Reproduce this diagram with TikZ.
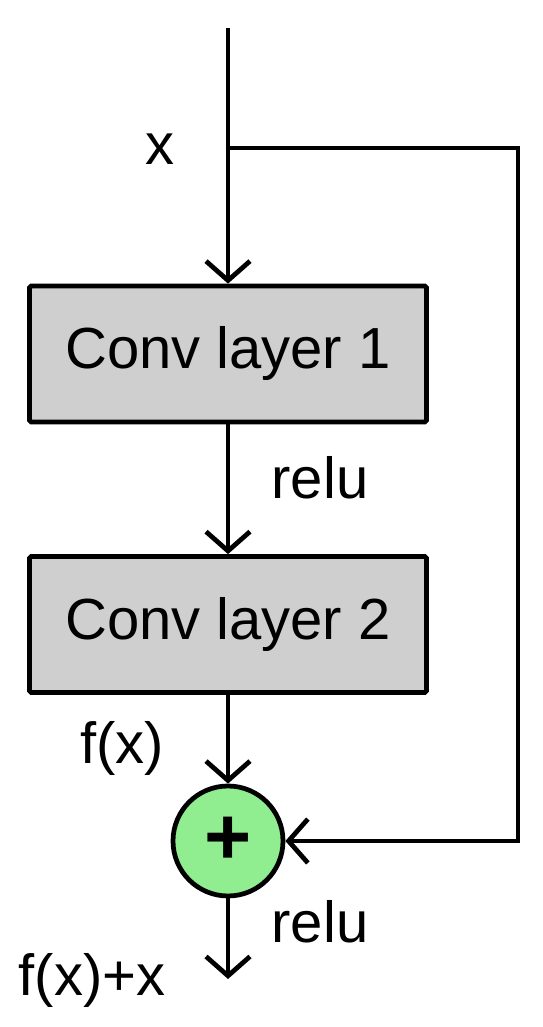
\documentclass[tikz,border=0pt]{standalone}
\usepackage{fontspec}
\setmainfont{Liberation Sans}
\usetikzlibrary{arrows.meta}
\definecolor{boxgray}{HTML}{CFCFCF}
\definecolor{sumgreen}{HTML}{90EE90}
\tikzset{
  layer/.style={draw,fill=boxgray,line width=2.7pt,rounded corners=1pt,minimum width=7.94cm,minimum height=2.72cm},
  sum/.style={draw,circle,fill=sumgreen,line width=2.7pt,minimum size=2.2cm,inner sep=0pt},
  link/.style={line width=2.7pt,-{Straight Barb[length=11pt,width=25pt]}},
  lbl/.style={inner sep=0pt}
}
\begin{document}
\begin{tikzpicture}[font=\fontsize{33}{38}\selectfont]
    %\draw[help lines] (0,0) grid (10,20);
       \useasboundingbox (0,0) rectangle (10.84,20.54);
       \coordinate (in) at (4.56,19.98);
       \coordinate (split) at (4.56,17.58);
       \coordinate (c1) at (10.36,17.58);
       \coordinate (c2) at (10.36,3.72);
       \coordinate (out) at (4.56,0.96);
       \node[layer] (conv1) at (4.56,13.46) {Conv layer 1};
       \node[layer] (conv2) at (4.56,8.05) {Conv layer 2};
       \node[sum,font=\fontsize{46}{46}\selectfont\bfseries] (add) at (4.56,3.72) {+};
       \draw[line width=2.7pt] (in) -- (split);
       \draw[link] (split) -- (conv1.north);
       \draw[link] (conv1) -- (conv2);
       \draw[link] (conv2) -- (add);
       \draw[link] (add) -- (out);
       \draw[link,line join=miter] (split) -- (c1) -- (c2) -- (add.east);
       \node[lbl] (xin) at (3.2,17.55) {x};
       \node[lbl] (act1) at (6.4,10.98) {relu};
       \node[lbl] (fx) at (2.44,5.58) {f(x)};
       \node[lbl] (act2) at (6.4,2.1) {relu};
       \node[lbl] (res) at (1.84,0.94) {f(x)+x};
\end{tikzpicture}
\end{document}
